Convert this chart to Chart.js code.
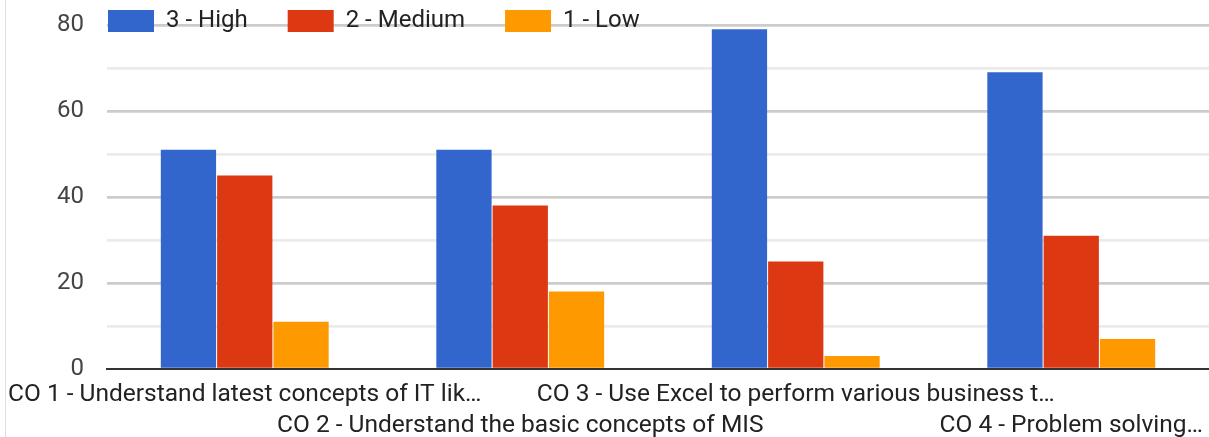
<!DOCTYPE html>
<html>
<head>
<meta charset="utf-8">
<script src="https://cdn.jsdelivr.net/npm/chart.js@4/dist/chart.umd.min.js"></script>
<style>
  html, body { margin: 0; padding: 0; background: #fff; }
  #wrap { position: relative; width: 1209px; height: 437px; }
  #edge { position: absolute; left: 5px; top: 0; width: 1px; height: 437px; background: #e0e0e0; }
  canvas { display: block; }
</style>
</head>
<body>
<div id="wrap">
  <canvas id="c" width="1209" height="437"></canvas>
  <div id="edge"></div>
</div>
<script>
const categories = [
  "CO 1 - Understand latest concepts of IT lik\u2026",
  "CO 2 - Understand the basic concepts of MIS",
  "CO 3 - Use Excel to perform various business t\u2026",
  "CO 4 - Problem solving\u2026"
];
const seriesNames = ["3 - High", "2 - Medium", "1 - Low"];
const seriesColors = ["#3366cc", "#dc3912", "#ff9900"];
const highValues = [51, 51, 79, 69];
const mediumValues = [45, 38, 25, 31];
const lowValues = [11, 18, 3, 7];
const yTickLabels = [0, 20, 40, 60, 80];

const FONT = "Roboto";

// Legend overlays the top of the plot (like the reference) instead of taking its own row.
const legendOverlay = {
  id: 'legendOverlay',
  beforeLayout(chart) {
    const lg = chart.legend;
    if (!lg || lg._patched) return;
    const origFit = lg.fit;
    lg.fit = function() {
      origFit.call(this);
      this.height = 0;
    };
    lg._patched = true;
  },
  afterLayout(chart) {
    const lg = chart.legend;
    if (!lg) return;
    const pad = lg.options.labels.padding;
    lg.left = 108 - pad;
    lg.top = 9 - pad;
    lg.right = chart.width;
    lg.bottom = 60;
    lg.width = lg.right - lg.left;
    lg.height = lg.bottom - lg.top;
  }
};

new Chart(document.getElementById('c'), {
  type: 'bar',
  data: {
    labels: categories,
    datasets: [
      { label: seriesNames[0], data: highValues, backgroundColor: seriesColors[0] },
      { label: seriesNames[1], data: mediumValues, backgroundColor: seriesColors[1] },
      { label: seriesNames[2], data: lowValues, backgroundColor: seriesColors[2] }
    ]
  },
  options: {
    responsive: false,
    animation: false,
    devicePixelRatio: 1,
    layout: { padding: { top: 25, left: 0, right: 0, bottom: 0 } },
    datasets: { bar: { categoryPercentage: 0.613, barPercentage: 0.982 } },
    plugins: {
      tooltip: { enabled: false },
      legend: {
        position: 'top',
        align: 'start',
        labels: {
          boxWidth: 46,
          boxHeight: 22,
          padding: 40,
          color: '#222',
          font: { family: FONT, size: 24 }
        }
      }
    },
    scales: {
      x: {
        z: 1,
        grid: { display: false },
        border: { display: true, color: '#333', width: 2 },
        ticks: {
          autoSkip: false,
          maxRotation: 0,
          minRotation: 0,
          padding: 3,
          color: '#222',
          font: { family: FONT, size: 24.5, lineHeight: 1.25 },
          callback: function(value, index) {
            const t = categories[index];
            return index % 2 === 0 ? [t, ''] : ['', t];
          }
        },
        afterFit: function(scale) {
          scale.paddingLeft = 0;
          scale.paddingRight = 0;
          scale.height = 68;
        }
      },
      y: {
        min: 0,
        max: 80,
        border: { display: false },
        grid: {
          drawTicks: false,
          lineWidth: 2.7,
          color: function(ctx) {
            const v = ctx.tick ? ctx.tick.value : null;
            if (v === 0) return 'rgba(0,0,0,0)';
            return (v % 20 === 0) ? '#cccccc' : '#ebebeb';
          }
        },
        ticks: {
          stepSize: 10,
          padding: 23,
          color: '#444',
          font: { family: FONT, size: 24 },
          callback: function(value) {
            return yTickLabels.includes(value) ? String(value) : '';
          }
        },
        afterFit: function(scale) {
          scale.width = 107;
          scale.paddingTop = 0;
          scale.paddingBottom = 0;
        }
      }
    }
  },
  plugins: [legendOverlay]
});
</script>
</body>
</html>
